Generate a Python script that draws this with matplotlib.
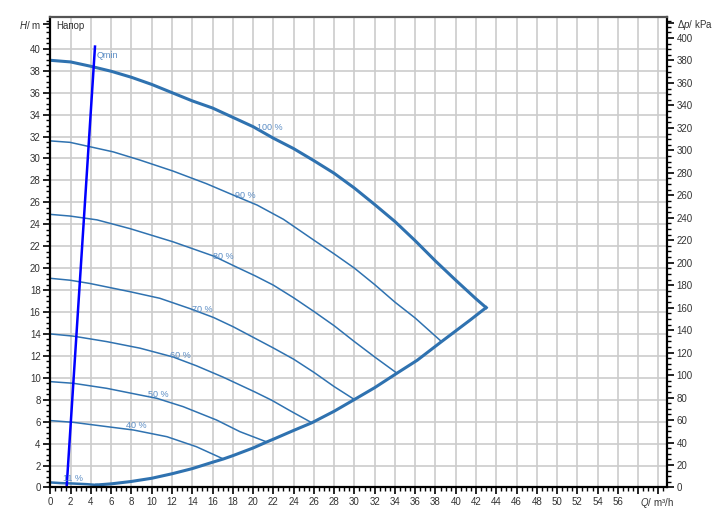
import matplotlib
matplotlib.use('Agg')
import matplotlib.pyplot as plt
from matplotlib.ticker import MultipleLocator
import numpy as np

plt.rcParams['font.family'] = ['Liberation Sans', 'DejaVu Sans']
plt.rcParams['mathtext.fontset'] = 'custom'
plt.rcParams['mathtext.rm'] = 'Liberation Sans'
plt.rcParams['mathtext.it'] = 'Liberation Sans:italic'

# Curve data (Q in m3/h, H in m)
q_100 = [0, 2, 4, 6, 8, 10, 12, 14, 16, 18, 20, 22, 24, 26, 28, 30, 32, 34, 36, 38, 40, 42, 43]
h_100 = [38.95, 38.8, 38.4, 37.95, 37.4, 36.75, 36.0, 35.25, 34.6, 33.75, 32.9, 31.85,
         30.9, 29.8, 28.65, 27.3, 25.8, 24.25, 22.5, 20.65, 18.9, 17.2, 16.4]

q_limit = [43.0, 41.4, 38.6, 36.2, 34.2, 32, 30, 28, 25.8, 24, 22, 21.35, 20, 18, 17.07,
           16, 14, 12, 10, 8, 6, 4.57]
h_limit = [16.4, 15.25, 13.3, 11.6, 10.42, 9.1, 8.02, 6.95, 5.9, 5.2, 4.4, 4.15, 3.6, 2.9, 2.6,
           2.3, 1.72, 1.25, 0.84, 0.55, 0.33, 0.23]

q_11 = [4.57, 3.6, 2.26, 1.0, 0]
h_11 = [0.23, 0.3, 0.36, 0.4, 0.46]

q_90 = [0, 1.93, 3.9, 6.2, 8.85, 12.1, 15.4, 18.2, 20.4, 23.0, 26.0, 28.0, 30.0, 32.0, 34.0,
        36.0, 38.6]
h_90 = [31.6, 31.47, 31.07, 30.6, 29.85, 28.85, 27.7, 26.6, 25.75, 24.45, 22.55, 21.3, 20.0,
        18.5, 16.9, 15.45, 13.3]

q_80 = [0, 1.93, 4.6, 7.86, 12.1, 16.1, 18.7, 20.2, 22, 24, 26, 28, 30, 32, 34.2]
h_80 = [24.9, 24.75, 24.4, 23.6, 22.4, 21.1, 19.95, 19.3, 18.45, 17.3, 16.05, 14.75, 13.3,
        11.9, 10.42]

q_70 = [0, 1.93, 3.9, 7.86, 10.8, 13.8, 16.1, 18.05, 20.2, 22, 24, 26, 28, 30]
h_70 = [19.07, 18.9, 18.6, 17.85, 17.25, 16.3, 15.5, 14.65, 13.6, 12.72, 11.7, 10.5, 9.2, 8.02]

q_60 = [0, 2.26, 5.56, 8.85, 12.1, 14.4, 17.07, 20.2, 21.85, 23.65, 25.8]
h_60 = [14.0, 13.8, 13.3, 12.7, 11.9, 11.1, 10.05, 8.7, 7.95, 7.0, 5.9]

q_50 = [0, 2.26, 5.56, 8.85, 10.5, 13.1, 16.4, 18.7, 21.35]
h_50 = [9.65, 9.5, 9.04, 8.43, 8.13, 7.37, 6.15, 5.09, 4.15]

q_40 = [0, 2.26, 5.56, 8.2, 11.5, 14.4, 17.07]
h_40 = [6.1, 5.94, 5.55, 5.24, 4.63, 3.72, 2.6]

# Qmin line
q_qmin = [1.6, 4.4]
h_qmin = [0, 40.2]

# Curve labels: text, Q, H
speed_labels = ['100 %', '90 %', '80 %', '70 %', '60 %', '50 %', '40 %', '11 %']
label_q = [20.4, 18.2, 16.05, 13.95, 11.8, 9.6, 7.46, 1.24]
label_h = [32.8, 26.6, 21.1, 16.25, 12.0, 8.5, 5.63, 0.86]

KPA_PER_M = 9.76
X_MAX = 60.85
Y_MAX = 42.9

CURVE_COLOR = '#2f72b0'
LABEL_COLOR = '#5a8cc4'
TEXT_COLOR = '#333333'

fig = plt.figure(figsize=(7.21, 5.24), dpi=100)
ax = fig.add_axes([0.0699, 0.0697, 0.8552, 0.8979])

ax.set_xlim(0, X_MAX)
ax.set_ylim(0, Y_MAX)

# Grid
ax.set_xticks(np.arange(0, 61, 2))
ax.set_yticks(list(np.arange(0, 41, 2)) + [42.25])
ax.xaxis.set_minor_locator(MultipleLocator(0.5))
ax.yaxis.set_minor_locator(MultipleLocator(0.5))
ax.grid(True, which='major', color='#cccccc', linewidth=1.2)
ax.yaxis.get_gridlines()[-1].set_visible(False)
ax.set_axisbelow(True)

xlabels = [str(v) for v in range(0, 57, 2)] + ['', '']
ax.set_xticklabels(xlabels)
ylabels = [str(v) for v in range(0, 41, 2)] + [r'$\mathit{H}$/ m']
ax.set_yticklabels(ylabels)

ax.tick_params(which='major', direction='out', length=5, width=1.2, labelsize=7,
               labelcolor=TEXT_COLOR, pad=2, top=False, right=False)
ax.tick_params(which='minor', direction='out', length=3, width=1.0, top=False, right=False)
for side in ['left', 'bottom', 'right']:
    ax.spines[side].set_linewidth(1.6)
    ax.spines[side].set_color('black')
ax.spines['top'].set_linewidth(1.6)
ax.spines['top'].set_color('#555555')

ax.annotate(r'$Q$/ m³/h', xy=(58.2, 0), xycoords=('data', 'axes fraction'),
            xytext=(0, -6.2), textcoords='offset points', ha='left', va='top',
            fontsize=7, color=TEXT_COLOR, annotation_clip=False)

# Right axis in kPa
ax2 = ax.twinx()
ax2.set_ylim(0, Y_MAX * KPA_PER_M)
rticks = list(range(0, 401, 20)) + [413]
ax2.set_yticks(rticks)
ax2.set_yticklabels([str(v) for v in range(0, 401, 20)] + [r'$\Delta\mathit{p}$/ kPa'])
ax2.yaxis.set_minor_locator(MultipleLocator(5))
ax2.tick_params(axis='y', which='major', direction='out', length=5, width=1.2, labelsize=7,
                labelcolor=TEXT_COLOR, pad=2)
ax2.tick_params(axis='y', which='minor', direction='out', length=3, width=1.0)
for s in ax2.spines.values():
    s.set_visible(False)

# Outer envelope
ax.plot(q_100, h_100, color=CURVE_COLOR, linewidth=2.2)
ax.plot(q_limit, h_limit, color=CURVE_COLOR, linewidth=2.2)
ax.plot(q_11, h_11, color=CURVE_COLOR, linewidth=1.8)

# Reduced speed curves
for q, h in [(q_90, h_90), (q_80, h_80), (q_70, h_70), (q_60, h_60), (q_50, h_50), (q_40, h_40)]:
    ax.plot(q, h, color=CURVE_COLOR, linewidth=1.1)

# Qmin
ax.plot(q_qmin, h_qmin, color='#0000ff', linewidth=1.8)
ax.text(q_qmin[1] + 0.15, 39.4, 'Qmin', color=LABEL_COLOR, fontsize=6.5, va='center')

for txt, q, h in zip(speed_labels, label_q, label_h):
    ax.text(q, h, txt, color=LABEL_COLOR, fontsize=6.5, va='center', ha='left')

ax.text(0.6, 42.1, 'Напор', color=TEXT_COLOR, fontsize=7, va='center', ha='left')

fig.savefig('out.png', dpi=100)
